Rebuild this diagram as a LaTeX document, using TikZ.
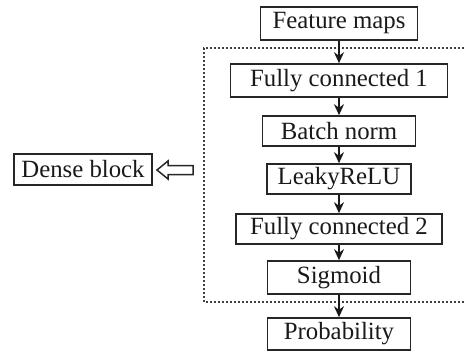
\documentclass[tikz,border=0pt]{standalone}
\usepackage{fontspec}
\setmainfont{Liberation Serif}
\usetikzlibrary{arrows.meta}
\begin{document}
\begin{tikzpicture}[x=1pt,y=-1pt,
  box/.style={draw=black!85,line width=1.6pt,inner sep=0pt,minimum height=31pt,
    font=\fontsize{24.8}{27}\selectfont,text=black!90},
  arr/.style={draw=black!90,line width=1.5pt,-{Stealth[length=11pt,width=10pt]}},
  blockarrow/.style={draw=black!85,line width=1.5pt,line join=miter},
  dotbox/.style={draw=black!75,line width=1.4pt,dash pattern=on 1.6pt off 2.4pt}]
\useasboundingbox (0,0) rectangle (466,353);
\begin{scope}
\clip (0,0) rectangle (466,353);
\draw[dotbox] (480,48) -- (204,48) -- (204,302) -- (480,302);
\end{scope}
\node[box,minimum width=157pt,minimum height=33pt] (fm) at (339,23.5) {Feature maps};
\node[box,minimum width=217pt,minimum height=33pt] (fc1) at (339,80.5) {Fully connected 1};
\node[box,minimum width=153pt,minimum height=30pt] (bn) at (339,131) {Batch norm};
\node[box,minimum width=144pt,minimum height=30pt] (lr) at (339,179) {LeakyReLU};
\node[box,minimum width=206pt,minimum height=30pt] (fc2) at (339,229) {Fully connected 2};
\node[box,minimum width=143pt,minimum height=33pt] (sg) at (339,277.5) {Sigmoid};
\node[box,minimum width=143pt,minimum height=32pt] (pr) at (339,334) {Probability};
\node[box,minimum width=138pt,minimum height=31pt] (db) at (83,169.5) {Dense block};
\draw[blockarrow] (157,170) -- (168,161) -- (168,165.5) -- (193,165.5) -- (193,174.5)
  -- (168,174.5) -- (168,179) -- cycle;
\draw[arr] (fm) -- (fc1);
\draw[arr] (fc1) -- (bn);
\draw[arr] (bn) -- (lr);
\draw[arr] (lr) -- (fc2);
\draw[arr] (fc2) -- (sg);
\draw[arr] (sg) -- (pr);
\end{tikzpicture}
\end{document}
